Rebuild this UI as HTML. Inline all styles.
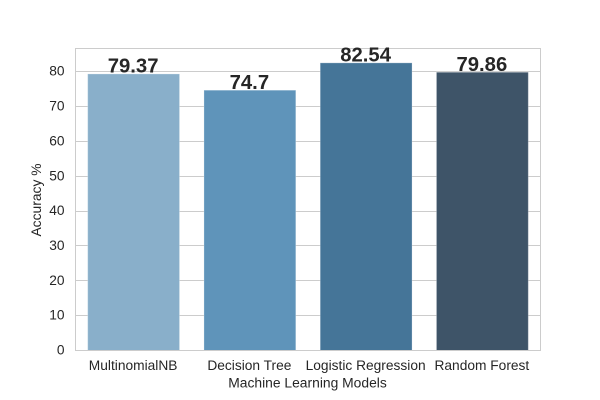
<!DOCTYPE html>
<html>
<head>
<meta charset="utf-8">
<style>
html,body{margin:0;padding:0;background:#fff;width:600px;height:400px;overflow:hidden}
svg{display:block}
text{font-family:"Liberation Sans",Arial,sans-serif;fill:#262626}
</style>
</head>
<body>
<svg id="chart" width="600" height="400" viewBox="0 0 600 400" xmlns="http://www.w3.org/2000/svg"></svg>
<script>
const categories = ["MultinomialNB", "Decision Tree", "Logistic Regression", "Random Forest"];
const accuracy = [79.37, 74.7, 82.54, 79.86];
const valueLabels = ["79.37", "74.7", "82.54", "79.86"];
const barColors = ["#89afca", "#5f94ba", "#457598", "#3e5468"];
const yTicks = [0, 10, 20, 30, 40, 50, 60, 70, 80];

const svg = document.getElementById('chart');
const NS = 'http://www.w3.org/2000/svg';
const plot = {left: 75.5, right: 540.5, top: 48.5, bottom: 350.5};
const yMax = Math.max(...accuracy) * 1.05;
const yScale = v => plot.bottom - (v / yMax) * (plot.bottom - plot.top);
const xBand = (plot.right - plot.left) / categories.length;
const xScale = i => plot.left + xBand * (i + 0.5);
const barWidth = xBand * 0.79;
const slug = c => c.toLowerCase().replace(/\s+/g, '-');

function make(tag, attrs, text) {
  const el = document.createElementNS(NS, tag);
  for (const k in attrs) el.setAttribute(k, attrs[k]);
  if (text !== undefined) el.textContent = text;
  svg.appendChild(el);
  return el;
}

yTicks.forEach(t => {
  const y = yScale(t);
  const crisp = Math.floor(y) + 0.5;
  const grid = make('line', {x1: plot.left, x2: plot.right, y1: crisp, y2: crisp, stroke: '#cccccc', 'stroke-width': 1});
  
  
  const label = make('text', {x: 64.5, y: y + 4, 'text-anchor': 'end', 'font-size': 13.75}, String(t));
  
  
});

categories.forEach((c, i) => {
  const top = yScale(accuracy[i]);
  const bar = make('rect', {
    x: xScale(i) - barWidth / 2,
    y: top,
    width: barWidth,
    height: plot.bottom - top,
    fill: barColors[i],
    stroke: 'rgba(255,255,255,0.25)',
    'stroke-width': 1
  });
  
  
});

const frame = make('rect', {
  x: plot.left,
  y: plot.top,
  width: plot.right - plot.left,
  height: plot.bottom - plot.top,
  fill: 'none',
  stroke: '#cccccc',
  'stroke-width': 1
});



categories.forEach((c, i) => {
  const top = yScale(accuracy[i]);
  const value = make('text', {x: xScale(i) - 0.5, y: top - 1.3, 'text-anchor': 'middle', 'font-size': 20.3, 'font-weight': 'bold'}, valueLabels[i]);
  
  

  const tick = make('text', {x: xScale(i) - 0.5, y: 370, 'text-anchor': 'middle', 'font-size': 13.75}, c);
  
  
});

const xTitle = make('text', {x: 307.5, y: 387.5, 'text-anchor': 'middle', 'font-size': 13.85}, 'Machine Learning Models');



const yTitle = make('text', {x: 0, y: 0, 'text-anchor': 'middle', 'font-size': 13.85, transform: 'translate(41 200) rotate(-90)'}, 'Accuracy %');


</script>
</body>
</html>
